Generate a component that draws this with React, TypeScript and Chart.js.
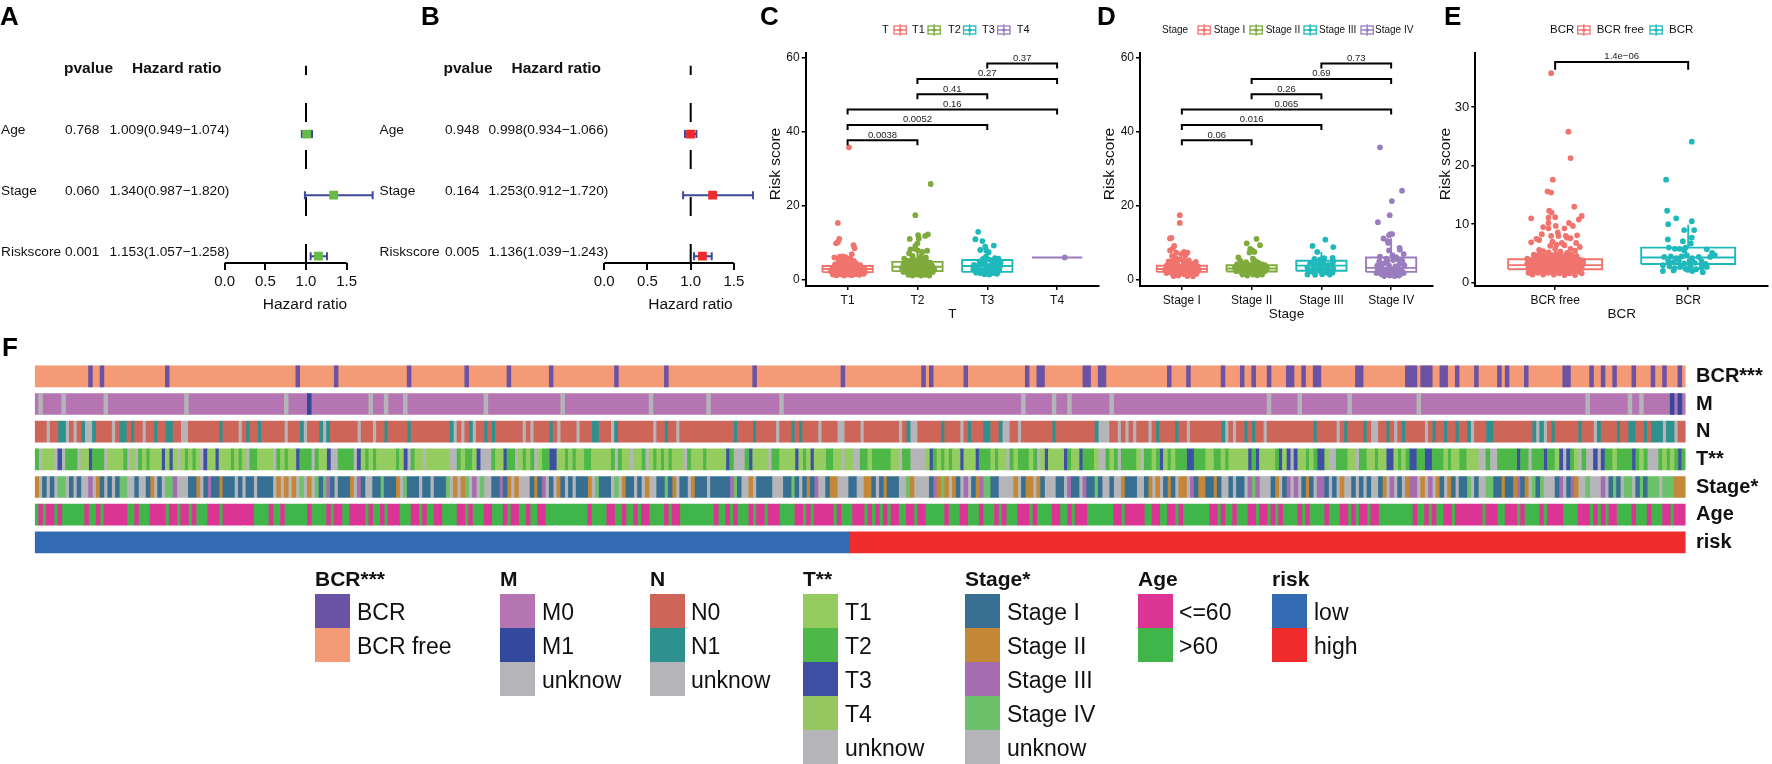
import { useEffect, useRef } from 'react';
import { Chart, registerables } from 'chart.js';

Chart.register(...registerables);
const FONT = '"Liberation Sans", Arial, sans-serif';
Chart.defaults.font.family = FONT;
Chart.defaults.color = '#111';

/* ---------- forest plots (A, B) ---------- */
const forestRows = ['Age', 'Stage', 'Riskscore'];
const hrTicks = [0, 0.5, 1, 1.5];
const aHazard = [1.009, 1.34, 1.153];
const aLow = [0.949, 0.987, 1.057];
const aHigh = [1.074, 1.82, 1.258];
const aPvalues = ['0.768', '0.060', '0.001'];
const aText = ['1.009(0.949\u22121.074)', '1.340(0.987\u22121.820)', '1.153(1.057\u22121.258)'];
const bHazard = [0.998, 1.253, 1.136];
const bLow = [0.934, 0.912, 1.039];
const bHigh = [1.066, 1.72, 1.243];
const bPvalues = ['0.948', '0.164', '0.005'];
const bText = ['0.998(0.934\u22121.066)', '1.253(0.912\u22121.720)', '1.136(1.039\u22121.243)'];

/* ---------- risk score panels (C, D, E) ---------- */
const tLabels = ['T1', 'T2', 'T3', 'T4'];
const stageLabels = ['Stage I', 'Stage II', 'Stage III', 'Stage IV'];
const bcrLabels = ['BCR free', 'BCR'];
const groupColors = ['#F1736E', '#7FAB3C', '#1FB9BC', '#9A7DBE'];
const bcrColors = ['#F1736E', '#1FB9BC'];

// [low whisker, q1, median, q3, high whisker]
const tBoxes = [[1.2, 2.15, 3, 3.8, 6.5], [1.2, 2.4, 3.6, 4.9, 8], [1.5, 2.2, 3.8, 5.4, 9], [6.1, 6.1, 6.1, 6.1, 6.1]];
const stageBoxes = [[1.1, 2.2, 3, 3.85, 6.3], [1.2, 2.3, 3.1, 4, 6.5], [1.4, 2.5, 3.9, 5.2, 7.6], [1.1, 2.2, 3.3, 6.1, 11.3]];
const bcrBoxes = [[1.3, 2.3, 3, 4, 6.5], [1.8, 3.2, 4.3, 6, 9.9]];

// [group a, group b, height, p label]
const tBrackets = [[1, 2, 37.7, '0.0038'], [1, 3, 41.8, '0.0052'], [1, 4, 46, '0.16'], [2, 3, 50.1, '0.41'], [2, 4, 54.2, '0.27'], [3, 4, 58.4, '0.37']];
const stageBrackets = [[1, 2, 37.7, '0.06'], [1, 3, 41.8, '0.016'], [1, 4, 46, '0.065'], [2, 3, 50.1, '0.26'], [2, 4, 54.2, '0.69'], [3, 4, 58.4, '0.73']];
const bcrBrackets = [[1, 2, 37.7, '1.4e\u221206']];

// [jitter offset, risk score]
const t1Points = [[.02,35.8],[-.14,15.4],[-.12,11.1],[-.165,9.9],[-.14,10.2],[.085,9.4],[.1,8.6],[.06,7],[-.07,6.4],[-.19,6.1],[-.11,6.3],[-.03,6.2],[.04,5.9],[.09,5.2],[-.21,1.5],[-.16,1.3],[-.1,1.6],[-.05,1.2],[.01,1.5],[.06,1.3],[.12,1.6],[.17,1.4],[.23,1.7],[-.24,2.4],[-.18,2.2],[-.12,2.5],[-.07,2.1],[-.01,2.4],[.05,2.2],[.1,2.5],[.16,2.3],[.21,2.6],[.25,2.2],[-.22,3.1],[-.16,3.4],[-.1,3],[-.04,3.3],[.02,3],[.08,3.4],[.14,3.1],[.2,3.3],[.24,3],[-.18,4.2],[-.12,4.5],[-.06,4],[0,4.4],[.06,4.1],[.12,4.5],[.18,4],[-.13,5.3],[-.06,5.4],[.01,5]];
const t2Points = [[.19,25.9],[-.03,17.5],[-.11,11.1],[.15,12.3],[.11,11.9],[.01,12.1],[.02,11.2],[0,9.9],[-.03,9.2],[-.1,8.3],[.14,7.9],[.01,7.9],[.07,7.6],[-.12,7.2],[-.03,8.4],[-.19,5.8],[-.07,6.5],[.05,6.3],[.12,6.1],[-.14,5.2],[-.08,5.5],[-.01,5.4],[.06,5.2],[.13,5],[.18,4.7],[-.2,4.2],[-.15,4.4],[-.09,4.1],[-.03,4.4],[.03,4.1],[.09,4.3],[.15,4],[.21,3.9],[-.22,3.2],[-.16,3.4],[-.1,3.1],[-.04,3.3],[.02,3],[.08,3.3],[.14,3],[.2,3.2],[.24,2.9],[-.2,2.2],[-.14,2.4],[-.08,2.1],[-.02,2.3],[.04,2],[.1,2.3],[.16,2],[.22,2.2],[-.13,1.4],[-.07,1.2],[-.01,1.5],[.05,1.2],[.11,1.4],[.17,1.2]];
const t3Points = [[-.13,13],[-.17,11],[-.07,10.5],[.094,9.3],[-.03,9],[-.1,8.1],[-.014,7.9],[.02,7.5],[-.02,6.3],[.11,5.9],[.16,5.8],[-.06,5.7],[.03,5.5],[-.11,5],[-.04,4.8],[.08,5],[.13,4.7],[.19,4.6],[-.19,4.1],[-.13,3.9],[-.07,4.1],[0,3.8],[.06,4],[.12,3.7],[.18,3.6],[-.2,2.9],[-.14,3],[-.08,2.7],[-.02,2.9],[.05,2.6],[.1,2.9],[.17,2.6],[-.16,2],[-.1,1.9],[-.04,1.6],[.03,1.5],[.09,1.9],[.14,1.7]];
const t4Points = [[.11,6.1]];
const stage1Points = [[-.03,17.5],[-.03,15.4],[-.17,11.2],[-.15,11.4],[-.11,9.2],[-.13,8.5],[-.17,8],[-.08,7.4],[.03,7.6],[.08,7.4],[-.01,7],[.05,6.7],[-.14,6.5],[-.09,6],[.1,5.3],[.2,4.9],[-.03,5.6],[.03,5.3],[-.19,5],[-.13,5.1],[-.07,4.8],[.06,4.5],[.14,4.4],[-.22,3.9],[-.16,3.7],[-.1,4],[-.04,3.7],[.02,4],[.09,3.6],[.17,3.7],[.23,3.6],[-.24,2.8],[-.18,3],[-.12,2.7],[-.06,2.9],[0,2.6],[.06,2.9],[.12,2.6],[.18,2.8],[.24,2.6],[-.22,1.9],[-.15,2],[-.09,1.7],[-.03,2],[.03,1.6],[.09,1.9],[.15,1.6],[.21,1.7],[-.12,1.1],[-.05,1.2],[.08,1.1],[.16,1]];
const stage2Points = [[-.07,9.9],[.07,11.1],[.12,9.4],[-.02,8.4],[.01,8],[.04,7.6],[-.03,7.4],[-.19,6.1],[.02,5.8],[-.16,5.2],[-.08,4.8],[.06,5],[.1,4.6],[-.21,4.2],[-.13,4.3],[-.04,4.1],[.03,4.3],[.15,4.2],[.19,4],[-.24,3.3],[-.17,3.4],[-.1,3.1],[-.03,3.4],[.04,3.1],[.1,3.4],[.16,3.1],[.22,3.2],[-.22,2.4],[-.15,2.2],[-.08,2.5],[-.01,2.2],[.06,2.4],[.12,2.1],[.19,2.4],[-.13,1.5],[-.06,1.2],[.02,1.5],[.08,1.3],[.15,1.5]];
const stage3Points = [[.057,10.9],[-.127,9.2],[.17,8.9],[-.06,7.6],[.16,6],[-.1,5.7],[-.02,5.5],[.04,5.9],[.17,5.1],[-.16,4.5],[-.1,4.6],[-.03,4.2],[.03,4.5],[.1,4.1],[.16,4.2],[-.2,3.4],[-.12,3],[-.05,3.3],[.02,3],[.09,3.3],[.17,3.1],[-.18,2.3],[-.11,2.1],[-.03,2.5],[.05,2],[.11,2.3],[.16,2],[-.2,1.5],[-.09,1.4],[.01,1.6],[.12,1.5]];
const stage4Points = [[-.16,35.8],[.156,24.1],[.01,21.3],[-.02,17.5],[-.19,15.6],[-.01,12.4],[.015,12.4],[-.03,12.1],[-.11,11.2],[-.05,10.5],[-.04,10],[.12,8.7],[.125,8.2],[-.03,8],[.18,7],[.02,6.7],[-.16,6.3],[.07,6.2],[-.07,5.8],[.1,5.6],[.16,5.2],[-.17,5],[-.05,5.2],[.03,5.4],[-.1,4.5],[.12,4.3],[.19,4],[-.2,3.9],[-.14,3.6],[-.03,3.9],[.06,3.7],[-.19,2.9],[-.12,2.6],[-.05,3],[.02,2.7],[.09,3],[.15,2.7],[-.21,1.9],[-.14,1.6],[-.07,2],[0,1.6],[.07,2],[.13,1.6],[.18,1.9],[-.1,1.1],[-.02,1.2],[.05,1.1],[.11,1.2]];
const bcrFreePoints = [[-.03,35.8],[.1,25.8],[.116,21.3],[-.017,17.6],[-.057,15.6],[-.03,15.4],[.144,13],[-.045,12.3],[-.027,12],[-.18,11],[.2,11.4],[.178,10.8],[-.05,11.1],[0,11.2],[-.05,10.2],[.104,10.2],[.134,9.7],[.005,9.7],[-.09,9.5],[-.05,9.3],[.07,9.3],[-.1,8.3],[.02,8.6],[.025,8],[.165,8.1],[-.03,8],[.08,8],[-.14,7.5],[-.12,7.3],[.116,7.6],[.09,7.7],[-.18,6.9],[-.02,7],[.05,6.8],[.158,6.8],[-.037,6.3],[.01,6.5],[.07,6.4],[.185,6.1],[-.12,5.6],[0,5.8],[.116,5.8],[.15,5.5],[-.09,5.4],[-.05,5.2],[.04,5.3],[.09,5.1],[-.16,4.8],[-.12,4.9],[-.08,4.6],[-.02,4.7],[.02,4.9],[.07,4.6],[.12,4.8],[.16,4.6],[-.21,4.1],[-.17,4],[-.13,4.2],[-.1,3.8],[-.06,4],[-.02,3.7],[.01,4.1],[.05,3.8],[.1,4],[.14,3.7],[.18,4],[.21,3.8],[-.21,3.2],[-.17,3.4],[-.14,3],[-.1,3.2],[-.06,3],[-.02,3.3],[.02,2.9],[.06,3.2],[.1,2.9],[.14,3.2],[.18,3],[.21,3.2],[-.2,2.5],[-.16,2.3],[-.12,2.6],[-.08,2.3],[-.04,2.5],[0,2.2],[.04,2.5],[.08,2.2],[.12,2.5],[.16,2.2],[.2,2.5],[-.2,1.7],[-.17,1.4],[-.13,1.7],[-.09,1.4],[-.05,1.7],[-.01,1.4],[.03,1.6],[.07,1.3],[.11,1.6],[.15,1.3],[.2,1.6],[-.19,3.6],[-.15,3.6],[-.115,3.5],[-.08,3.5],[-.04,3.6],[.0,3.5],[.035,3.4],[.08,3.5],[.12,3.4],[.16,3.5],[.195,3.5],[-.19,2.8],[-.155,2.7],[-.12,2.8],[-.08,2.8],[-.04,2.8],[0,2.7],[.04,2.8],[.08,2.7],[.12,2.8],[.16,2.7],[.19,2.8],[-.185,2],[-.145,2],[-.11,2],[-.07,1.9],[-.03,2],[.01,1.9],[.05,2],[.09,1.9],[.13,2],[.17,1.9],[-.14,4.5],[-.1,4.4],[-.04,4.4],[.04,4.4],[.09,4.4],[.14,4.3]];
const bcrPoints = [[.027,24.1],[-.166,17.6],[-.158,12.3],[-.09,11],[.027,10.5],[-.15,10],[-.03,9],[.045,9],[.027,7.7],[-.153,7.4],[-.04,7.1],[.02,6.7],[-.145,6],[-.1,5.8],[-.065,5.8],[-.02,6],[-.03,5.5],[.14,5.7],[.18,5.1],[.2,4.7],[.165,4.4],[-.18,4.4],[-.13,4.5],[-.09,4.2],[-.05,4.5],[-.01,4.7],[.03,4.2],[.08,4.4],[-.15,3.7],[-.11,3.5],[-.07,3.8],[-.03,3.3],[.01,3.7],[.05,3.4],[.1,3.7],[.13,3.2],[-.19,3],[-.14,2.8],[-.1,2.5],[-.06,2.7],[-.02,2.4],[.02,2.6],[.06,2.3],[.1,2.6],[.14,2.7],[-.19,2],[-.11,2.1],[-.005,2.2],[.03,2],[.11,1.8]];

const tGroups = [t1Points, t2Points, t3Points, t4Points];
const stageGroups = [stage1Points, stage2Points, stage3Points, stage4Points];
const bcrGroups = [bcrFreePoints, bcrPoints];

/* ---------- annotation tracks (F) ---------- */
const sampleCount = 430;
const lowRiskCount = 212;
const trackNames = ['BCR***', 'M', 'N', 'T**', 'Stage*', 'Age', 'risk'];

// [first sample, number of samples] having biochemical recurrence
const bcrEvents = [[14,1],[17,1],[34,1],[68,1],[78,1],[97,1],[112,1],[123,1],[134,1],[151,1],[164,1],[187,1],[210,1],[231,1],[233,1],[242,1],[258,1],[261,2],[273,2],[277,2],[295,1],[300,1],[309,1],[314,1],[317,1],[321,1],[326,2],[330,1],[333,2],[344,2],[357,3],[361,3],[366,2],[370,1],[375,1],[381,1],[383,1],[388,1],[398,2],[405,1],[408,1],[411,1],[416,1],[421,1],[424,1],[428,1]];
const mUnknown = [1,7,18,39,65,87,91,96,117,137,160,175,194,257,265,269,280,321,329,342,360,404,415,418];
const mPositive = [71,426,428];

const nOffsets = [0, 147, 296];
const nA = 'n3 u1 n2 t2 u1 n1 u1 n1 t1 u2 t1 n4 u1 n1 t2 n1 t1 n2 u1 n2 t1 n2 t2 n2 u2 n8 t1 n4 u1 n1 t1 n2 t1 n6 u1 n3 t1 u1 n3 t1 u1 t1 n7 u1 n3 u1 n2 t1 n5 t1 n10 t1 u1 n1 u1 n1 t1 u1 n2 t1 n1 t1 n7 u1 n1 u1 n4 t1 n1 u1 n4 u1 n3 t1';
const nB = 'n3 u1 t1 n9 u1 n2 t1 n2 u1 n14 t1 n4 t1 n5 u1 n3 t1 n1 t1 n4 u1 n4 u2 n4 u1 n9 u1 n1 t1 u2 n6 t1 n4 u1 n1 t1 n3 t2 n2 t1 u2 n2 u1 n8 t1 n10 t1 u3 n2 u1 n1 u1 n1 u1 n3 u1 n1 t1 n3 t1 n2 u1 n2';
const nC = 'n1 t1 n2 u1 n8 t1 u1 n1 u1 n2 t1 n1 t1 n2 u1 n12 t1 n5 u1 n1 t1 n4 t1 n1 u2 n2 t1 n1 u1 n1 t1 n5 u1 n1 t1 n2 t1 n2 t1 n2 t1 u1 n3 t2 n10 t1 u1 t1 u1 n1 t1 n6 t1 n3 u1 t1 n4 t1 n2 t2 n2 t1 n1 t3 u1 t2 u1 n1';

const rowOffsets = [0, 143, 287];
const tA = 'b1 u1 a3 u1 c1 u1 b3 u1 a2 c1 b3 u1 a4 b1 u1 a1 u1 b1 a1 b1 a3 c1 a1 c1 a1 u1 a1 b1 a1 b1 a1 u1 c1 a2 c1 a3 b1 a1 b1 a1 u1 b2 a4 u1 b1 a1 b1 a2 c1 b3 u1 b1 a2 c1 u2 b4 u1 c1 a1 b1 a1 b1 a5 b1 a1 c1 u1 b1 a2 u1 a6 u2 b1 a1 b2 a1 c1 u3 b1 a2 c1 b2 u1 a1 b1 a1 b1 u1 a1 b2 c2 a2 b1 a1 b1 a2 b1';
const tB = 'b2 a5 b1 u1 b1 a2 u1 a2 b1 u1 a1 b1 a1 b1 a1 b1 a3 u1 b1 a3 b1 a5 c1 b1 u3 b1 c1 a4 u1 b2 a4 c1 a1 b1 a1 c1 a3 b2 a2 u1 a2 u2 b2 a1 b5 a2 u1 b2 u4 a1 c1 b1 a1 b1 a1 b1 a2 c1 a3 c1 b3 a1 b1 a2 u1 b1 a1 b3 a1 b1 u1 a1 c1 a4 c1 b1 a2 c1 b3 a1 u2 b1 a1 b1 u1 b1';
const tC = 'a1 u1 b2 a1 b1 c1 a1 b1 a1 b3 c2 b3 a2 b2 a1 b1 a5 c1 b1 c1 a4 b1 c1 a1 c1 u1 c1 a2 b1 a1 b1 c2 a1 u2 b3 a2 u1 b2 a2 b1 a2 c2 a1 b1 a1 b1 c2 b2 c2 b3 a1 b1 a2 b2 a3 u2 b1 u2 b5 c1 b2 u1 b3 c1 b2 a1 c1 u1 c1 b1 a1 u1 b1 u2 c1 u1 c1 b2 a1 b4 c1 b1 a1 b1 u3 b1 a1 b1 a1 b1 c1 b1';

const stageA = 'j1 u1 i1 u1 i1 u1 l2 u1 i1 u1 i1 u2 k1 u1 j1 i1 u1 i1 u1 i1 l2 u2 i1 u2 i1 j1 u1 i1 u1 l2 k1 u3 i2 j1 u1 i1 k1 i2 j1 i3 u1 i1 u1 i2 u1 i4 u1 j1 u1 j1 u1 j1 u1 l1 u1 j1 u1 l1 i1 l1 k1 i1 u1 i3 j1 u1 k1 i1 u2 i2 l1 i3 j1 u1 l1 i3 u1 i2 u1 i3 l1 u1 j1 u1 j1 l1 u1 k1 u1 l1 u2 i2 k1 i1 j1 u1 j1 u3 i1 j1 i1 k1 u1 i1 u1 j1 i1 u1 i1 u1 i1';
const stageB = 'i1 j1 u1 l1 i3 u1 l1 u1 j1 i2 u1 i1 u1 j1 u2 i2 l1 i1 j1 u1 i2 u1 j1 i3 u1 i5 k1 l1 i1 u2 j1 u1 i4 u3 i2 l1 i1 u1 i1 j1 i1 k1 u2 i1 j2 u3 i2 u2 j2 i1 u1 i1 j1 i3 u2 l1 j1 u4 i1 k1 j1 l1 j1 u1 j1 i1 u1 k1 u1 i1 j1 k1 l2 i2 u4 j1 u1 i1 j2 u1 j1 i1 u3 i2 u1 k1 i2 u1 k1 i2 l1 i1 u2 i1 u2 j1 i1';
const stageC = 'u2 i1 j1 u1 j1 u1 i1 j1 i1 u1 j2 u1 k1 i1 j2 i2 j1 i1 u2 i1 u1 i2 u1 k1 l1 k1 u3 i1 j1 u1 i1 k1 u1 k1 u1 i1 j1 i1 u1 k2 i1 u1 i1 u1 j1 u2 i1 u1 i1 u1 i1 u2 i1 j1 u1 k1 u1 i1 u1 j1 k2 u1 j1 u1 k1 u1 j1 i1 u1 j1 i1 u1 i2 l1 u1 i1 u2 l2 i2 j1 i2 j1 k1 i1 j1 u1 l1 i1 l1 u3 i1 k1 u1 i1 k1 j1 u2 l1 u3 k1 u1 i1 l1 i1 u1 l2 u1 i1 l1 i1 l3 u1 l3 j1';

const ageA = 'g1 p1 g1 p2 g1 p1 g6 p1 g2 p1 g1 p6 g2 p1 g3 p4 g1 p2 g1 p2 g1 p1 g3 p3 g1 p8 g4 p1 g2 p1 g6 p1 g4 p1 g1 p2 g2 p4 g1 p1 g2 p1 g1 p3 g3 p2 g1 p1 g2 p2 g4 p2 g1 p1 g3 p2 g3 p1 g1 p2 g2 p1 g2 p2 g5';
const ageB = 'g1 p1 g4 p2 g2 p1 g2 p1 g1 p2 g4 p1 g1 p2 g9 p1 g2 p1 g1 p1 g3 p1 g1 p2 g1 p3 g4 p2 g1 p1 g1 p5 g1 p1 g3 p3 g1 p1 g1 p1 g1 p1 g1 p2 g2 p2 g1 p2 g5 p1 g3 p2 g3 p1 g3 p1 g1 p1 g3 p3 g1 p1 g4 p2 g2 p1 g1 p3 g7 p2 g1 p2';
const ageC = 'p2 g2 p2 g2 p2 g1 p1 g7 p2 g1 p1 g2 p1 g3 p2 g1 p2 g1 p1 g1 p1 g4 p1 g1 p1 g4 p1 g3 p2 g1 p1 g1 p2 g1 p2 g9 p1 g2 p1 g1 p1 g2 p2 g1 p7 g1 p3 g2 p3 g1 p1 g4 p1 g1 p4 g4 p3 g1 p1 g1 p1 g1 p2 g4 p1 g3 p1 g3 p2 g1 p2';

const colorOf = {
  bcr: '#6A53A5', bcrFree: '#F59A76',
  m0: '#B574B2', m1: '#32499E',
  n: '#CE6559', t: '#2F918E', u: '#B5B5B9',
  a: '#95CC60', b: '#4DB848', c: '#3F50A4', t4: '#95C65F',
  i: '#366F92', j: '#C48735', k: '#A66CB0', l: '#6EC16B',
  p: '#DB3494', g: '#40B54A',
  low: '#336BB3', high: '#EE2C2C',
};

const legendBlocks = [
  { title: 'BCR***', left: 315, text: 357, items: [['BCR', colorOf.bcr], ['BCR free', colorOf.bcrFree]] },
  { title: 'M', left: 500, text: 542, items: [['M0', colorOf.m0], ['M1', colorOf.m1], ['unknow', colorOf.u]] },
  { title: 'N', left: 650, text: 691, items: [['N0', colorOf.n], ['N1', colorOf.t], ['unknow', colorOf.u]] },
  { title: 'T**', left: 803, text: 845, items: [['T1', colorOf.a], ['T2', colorOf.b], ['T3', colorOf.c], ['T4', colorOf.t4], ['unknow', colorOf.u]] },
  { title: 'Stage*', left: 965, text: 1007, items: [['Stage I', colorOf.i], ['Stage II', colorOf.j], ['Stage III', colorOf.k], ['Stage IV', colorOf.l], ['unknow', colorOf.u]] },
  { title: 'Age', left: 1138, text: 1179, items: [['<=60', colorOf.p], ['>60', colorOf.g]] },
  { title: 'risk', left: 1272, text: 1314, items: [['low', colorOf.low], ['high', colorOf.high]] },
];

const panelLetters = [['A', 0, 3], ['B', 421, 3], ['C', 760, 3], ['D', 1097, 3], ['E', 1444, 3], ['F', 2, 334]];

const GAP = { x: NaN, y: NaN };

function forestConfig({ hazard, low, high, pvalues, text, color, x0, unit, canvasLeft, canvasWidth, columns }) {
  const rowPx = 62.5;
  const y0 = 131;
  const bottom = 263;
  const yMin = -y0 / rowPx;
  const yMax = (bottom - y0) / rowPx;
  const xMin = (canvasLeft - x0) / unit;
  const xMax = (canvasLeft + canvasWidth - x0) / unit;
  const whisker = [];
  forestRows.forEach((_, i) => whisker.push({ x: low[i], y: i }, { x: high[i], y: i }, GAP));
  const table = {
    id: 'forestTable',
    afterDraw(chart) {
      const { ctx, scales } = chart;
      ctx.save();
      ctx.textBaseline = 'middle';
      ctx.fillStyle = '#111';
      ctx.font = `bold 15.5px ${FONT}`;
      const headY = scales.y.getPixelForValue(-1) - 4;
      ctx.fillText('pvalue', columns.head1 - canvasLeft, headY);
      ctx.fillText('Hazard ratio', columns.head2 - canvasLeft, headY);
      ctx.font = `13.7px ${FONT}`;
      forestRows.forEach((row, i) => {
        const y = scales.y.getPixelForValue(i) - 3.5;
        ctx.fillText(row, columns.label - canvasLeft, y);
        ctx.fillText(pvalues[i], columns.p - canvasLeft, y);
        ctx.fillText(text[i], columns.hr - canvasLeft, y);
      });
      ctx.restore();
    },
  };
  return {
    type: 'scatter',
    data: {
      datasets: [
        { data: hazard.map((v, i) => ({ x: v, y: i })), pointStyle: 'rect', pointRadius: 6.2, backgroundColor: color, borderColor: color, borderWidth: 0 },
        { data: whisker, showLine: true, borderColor: '#3B4A9C', borderWidth: 2, pointStyle: 'line', rotation: 90, pointRadius: 4, pointBorderColor: '#3B4A9C', pointBorderWidth: 2 },
        { data: [{ x: 1, y: yMax }, { x: 1, y: yMin + 61 / rowPx }], showLine: true, borderColor: '#000', borderWidth: 2, borderDash: [19, 28], pointRadius: 0 },
        { data: [{ x: hrTicks[0], y: yMax }, { x: hrTicks[hrTicks.length - 1], y: yMax }], showLine: true, borderColor: '#000', borderWidth: 2, pointRadius: 0, clip: false },
      ],
    },
    plugins: [table],
    options: {
      responsive: false,
      animation: false,
      events: [],
      plugins: { legend: { display: false }, tooltip: { enabled: false } },
      scales: {
        y: { type: 'linear', reverse: true, min: yMin, max: yMax, display: false },
        x: {
          type: 'linear', min: xMin, max: xMax,
          afterFit: (s) => { s.height = 51; },
          afterBuildTicks: (s) => { s.ticks = hrTicks.map((value) => ({ value })); },
          border: { display: false },
          grid: { drawOnChartArea: false, drawTicks: true, tickLength: 7, color: '#000', lineWidth: 2 },
          ticks: { autoSkip: false, maxRotation: 0, padding: 3, color: '#111', font: { size: 15 }, callback: (v) => Number(v).toFixed(1) },
          title: { display: true, text: 'Hazard ratio', color: '#111', font: { size: 15.5 }, padding: { top: 0, bottom: 0 } },
        },
      },
    },
  };
}

function boxConfig({ labels, groups, boxes, colors, brackets, tip, halfWidth, yMin, yMax, yTicks, axisW, titleX, rightPad, canvasLeft, xTitle, legend, legendFont, yFont }) {
  const datasets = [];
  brackets.forEach(([a, b, h]) => {
    datasets.push({ data: [{ x: a, y: h - tip }, { x: a, y: h }, { x: b, y: h }, { x: b, y: h - tip }], showLine: true, borderColor: '#000', borderWidth: 2, pointRadius: 0 });
  });
  groups.forEach((pts, g) => {
    datasets.push({ data: pts.map(([dx, y]) => ({ x: g + 1 + dx, y })), pointRadius: 2.9, backgroundColor: colors[g], borderWidth: 0 });
  });
  boxes.forEach(([lo, q1, med, q3, hi], g) => {
    const c = g + 1;
    const l = c - halfWidth;
    const r = c + halfWidth;
    datasets.push({
      data: [
        { x: l, y: q1 }, { x: r, y: q1 }, { x: r, y: q3 }, { x: l, y: q3 }, { x: l, y: q1 }, GAP,
        { x: l, y: med }, { x: r, y: med }, GAP,
        { x: c, y: q3 }, { x: c, y: hi }, GAP,
        { x: c, y: q1 }, { x: c, y: lo },
      ],
      showLine: true, borderColor: colors[g], borderWidth: 1.9, pointRadius: 0,
    });
  });
  const notes = {
    id: 'notes',
    afterDraw(chart) {
      const { ctx, scales } = chart;
      ctx.save();
      ctx.fillStyle = '#222';
      ctx.textAlign = 'center';
      ctx.textBaseline = 'middle';
      ctx.font = `9.5px ${FONT}`;
      brackets.forEach(([a, b, h, label]) => {
        ctx.fillText(label, scales.x.getPixelForValue((a + b) / 2), scales.y.getPixelForValue(h) - 5.2);
      });
      // y-axis title sits a little above the middle of the axis
      ctx.save();
      ctx.translate(titleX, 164);
      ctx.rotate(-Math.PI / 2);
      ctx.fillStyle = '#111';
      ctx.font = `15.5px ${FONT}`;
      ctx.fillText('Risk score', 0, 0);
      ctx.restore();
      ctx.textAlign = 'left';
      ctx.font = `${legendFont}px ${FONT}`;
      ctx.fillStyle = '#111';
      const ly = 30;
      ctx.fillText(legend.title[0], legend.title[1] - canvasLeft, ly);
      legend.items.forEach(([label, keyX, textX], i) => {
        const kx = keyX - canvasLeft;
        ctx.strokeStyle = colors[i];
        ctx.fillStyle = colors[i];
        ctx.lineWidth = 1.3;
        ctx.strokeRect(kx, ly - 4, 12.3, 8);
        ctx.beginPath();
        ctx.moveTo(kx + 6.15, ly - 5.7);
        ctx.lineTo(kx + 6.15, ly + 5.7);
        ctx.moveTo(kx, ly);
        ctx.lineTo(kx + 12.3, ly);
        ctx.stroke();
        ctx.beginPath();
        ctx.arc(kx + 6.15, ly, 1.8, 0, Math.PI * 2);
        ctx.fill();
        ctx.fillStyle = '#111';
        ctx.fillText(label, textX - canvasLeft, ly);
      });
      ctx.restore();
    },
  };
  return {
    type: 'scatter',
    data: { datasets },
    plugins: [notes],
    options: {
      responsive: false,
      animation: false,
      events: [],
      layout: { padding: { top: 52.7, right: rightPad, left: 0, bottom: 0 } },
      plugins: { legend: { display: false }, tooltip: { enabled: false } },
      scales: {
        x: {
          type: 'linear', min: 0.4, max: labels.length + 0.6,
          afterFit: (s) => { s.height = 36; },
          afterBuildTicks: (s) => { s.ticks = labels.map((_, i) => ({ value: i + 1 })); },
          border: { color: '#000', width: 2 },
          grid: { drawOnChartArea: false, drawTicks: true, tickLength: 4, color: '#000', lineWidth: 1.5 },
          ticks: { autoSkip: false, maxRotation: 0, padding: 3, color: '#111', font: { size: 12 }, callback: (v) => labels[Math.round(Number(v)) - 1] },
          title: { display: true, text: xTitle, color: '#111', font: { size: 13.5 }, padding: { top: 0, bottom: 0 } },
        },
        y: {
          type: 'linear', min: yMin, max: yMax,
          afterFit: (s) => { s.width = axisW; },
          afterBuildTicks: (s) => { s.ticks = yTicks.map((value) => ({ value })); },
          border: { color: '#000', width: 2 },
          grid: { drawOnChartArea: false, drawTicks: true, tickLength: 4, color: '#000', lineWidth: 1.5 },
          ticks: { autoSkip: false, padding: 2, color: '#111', font: { size: yFont } },
        },
      },
    },
  };
}

function tokenRuns(segments, offsets, total) {
  const runs = [];
  segments.forEach((segment, i) => {
    let pos = offsets[i];
    const limit = i + 1 < offsets.length ? offsets[i + 1] : total;
    const tokens = segment.split(' ');
    tokens.forEach((token, t) => {
      if (pos >= limit) return;
      const count = Number(token.slice(1));
      const end = t === tokens.length - 1 ? limit : Math.min(pos + count, limit);
      runs.push({ code: token[0], start: pos, end });
      pos = end;
    });
    if (pos < limit && runs.length) runs[runs.length - 1].end = limit;
  });
  return runs;
}

function trackConfig() {
  const bar = (name, color, label, spans) => ({
    label,
    data: spans.map(([s, e]) => ({ x: [s, e], y: name })),
    backgroundColor: color,
    borderWidth: 0,
    barThickness: 21,
    grouped: false,
  });
  const byCode = (name, runs, codes) =>
    Object.entries(codes).map(([code, color]) =>
      bar(name, color, `${name}:${code}`, runs.filter((r) => r.code === code).map((r) => [r.start, r.end])));
  const [bcrName, mName, nName, tName, stageName, ageName, riskName] = trackNames;
  const datasets = [
    bar(bcrName, colorOf.bcr, 'BCR', bcrEvents.map(([s, n]) => [s, s + n])),
    bar(bcrName, colorOf.bcrFree, 'BCR free', [[0, sampleCount]]),
    bar(mName, colorOf.m1, 'M1', mPositive.map((s) => [s, s + 1])),
    bar(mName, colorOf.u, 'M unknow', mUnknown.map((s) => [s, s + 1])),
    bar(mName, colorOf.m0, 'M0', [[0, sampleCount]]),
    ...byCode(nName, tokenRuns([nA, nB, nC], nOffsets, sampleCount), { n: colorOf.n, t: colorOf.t, u: colorOf.u }),
    ...byCode(tName, tokenRuns([tA, tB, tC], rowOffsets, sampleCount), { a: colorOf.a, b: colorOf.b, c: colorOf.c, u: colorOf.u }),
    ...byCode(stageName, tokenRuns([stageA, stageB, stageC], rowOffsets, sampleCount), { i: colorOf.i, j: colorOf.j, k: colorOf.k, l: colorOf.l, u: colorOf.u }),
    ...byCode(ageName, tokenRuns([ageA, ageB, ageC], rowOffsets, sampleCount), { p: colorOf.p, g: colorOf.g }),
    bar(riskName, colorOf.low, 'low', [[0, lowRiskCount]]),
    bar(riskName, colorOf.high, 'high', [[lowRiskCount, sampleCount]]),
  ];
  return {
    type: 'bar',
    data: { labels: trackNames, datasets },
    options: {
      indexAxis: 'y',
      responsive: false,
      animation: false,
      events: [],
      layout: { padding: { left: 4.8, right: 0, top: 22.5, bottom: 23.8 } },
      plugins: { legend: { display: false }, tooltip: { enabled: false } },
      scales: {
        x: { type: 'linear', min: 0, max: sampleCount, display: false, grid: { display: false } },
        y: {
          type: 'category', position: 'right',
          afterFit: (s) => { s.width = 86.4; },
          border: { display: false },
          grid: { display: false, drawTicks: false, tickLength: 0 },
          ticks: { padding: 10.4, color: '#111', autoSkip: false, font: { size: 20, weight: 'bold' } },
        },
      },
    },
  };
}

function ChartCanvas({ left, top, width, height, config }) {
  const ref = useRef(null);
  useEffect(() => {
    const chart = new Chart(ref.current, config());
    return () => chart.destroy();
  }, []);
  return <canvas ref={ref} width={width} height={height} style={{ position: 'absolute', left, top, width, height }} />;
}

export default function App() {
  useEffect(() => {
    document.body.style.margin = '0';
    document.body.style.background = '#fff';
  }, []);
  return (
    <div style={{ position: 'absolute', left: 0, top: 0, width: 1772, height: 764, overflow: 'hidden', background: '#fff', fontFamily: FONT, color: '#111' }}>
      <ChartCanvas left={0} top={0} width={610} height={314} config={() => forestConfig({
        hazard: aHazard, low: aLow, high: aHigh, pvalues: aPvalues, text: aText, color: '#66BB47', x0: 223, unit: 83, canvasLeft: 0, canvasWidth: 610,
        columns: { label: 1, p: 65, hr: 109.5, head1: 64, head2: 132 },
      })} />
      <ChartCanvas left={375} top={0} width={631} height={314} config={() => forestConfig({
        hazard: bHazard, low: bLow, high: bHigh, pvalues: bPvalues, text: bText, color: '#EE2A2C', x0: 602.5, unit: 88.2, canvasLeft: 375, canvasWidth: 631,
        columns: { label: 379.5, p: 445, hr: 488.5, head1: 443.5, head2: 511.5 },
      })} />
      <ChartCanvas left={761} top={0} width={342} height={322} config={() => boxConfig({
        labels: tLabels, groups: tGroups, boxes: tBoxes, colors: groupColors, brackets: tBrackets, tip: 1.35, halfWidth: 0.36,
        yMin: -1.6, yMax: 61.3, yTicks: [0, 20, 40, 60], axisW: 44.7, titleX: 14.7, rightPad: 0.8, canvasLeft: 761, xTitle: 'T', yFont: 12, legendFont: 11,
        legend: { title: ['T', 882], items: [['T1', 894, 912], ['T2', 928, 948], ['T3', 963.5, 982], ['T4', 997.7, 1016.7]] },
      })} />
      <ChartCanvas left={1095} top={0} width={342} height={322} config={() => boxConfig({
        labels: stageLabels, groups: stageGroups, boxes: stageBoxes, colors: groupColors, brackets: stageBrackets, tip: 1.35, halfWidth: 0.36,
        yMin: -1.6, yMax: 61.3, yTicks: [0, 20, 40, 60], axisW: 45, titleX: 15, rightPad: 0, canvasLeft: 1095, xTitle: 'Stage', yFont: 12, legendFont: 10,
        legend: { title: ['Stage', 1162], items: [['Stage I', 1198, 1213.7], ['Stage II', 1250, 1265.7], ['Stage III', 1304, 1319], ['Stage IV', 1361, 1375]] },
      })} />
      <ChartCanvas left={1430} top={0} width={342} height={322} config={() => boxConfig({
        labels: bcrLabels, groups: bcrGroups, boxes: bcrBoxes, colors: bcrColors, brackets: bcrBrackets, tip: 1.3, halfWidth: 0.353,
        yMin: -0.56, yMax: 39.3, yTicks: [0, 10, 20, 30], axisW: 45.3, titleX: 15.7, rightPad: 0.5, canvasLeft: 1430, xTitle: 'BCR', yFont: 13, legendFont: 11.5,
        legend: { title: ['BCR', 1550], items: [['BCR free', 1577.7, 1596.7], ['BCR', 1650, 1669]] },
      })} />
      <ChartCanvas left={30} top={340} width={1742} height={240} config={trackConfig} />
      {panelLetters.map(([t, x, y]) => (
        <div key={t} style={{ position: 'absolute', left: x, top: y, fontSize: 26, lineHeight: '26px', fontWeight: 'bold', color: '#000' }}>{t}</div>
      ))}
      {legendBlocks.map((b) => (
        <div key={b.title}>
          <div style={{ position: 'absolute', left: b.left, top: 566, fontSize: 21, lineHeight: '26px', fontWeight: 'bold' }}>{b.title}</div>
          {b.items.map(([label, color], i) => (
            <div key={label}>
              <div style={{ position: 'absolute', left: b.left, top: 594 + i * 34, width: 35, height: 34, background: color }} />
              <div style={{ position: 'absolute', left: b.text, top: 595 + i * 34, fontSize: 23, lineHeight: '34px', whiteSpace: 'nowrap' }}>{label}</div>
            </div>
          ))}
        </div>
      ))}
    </div>
  );
}
